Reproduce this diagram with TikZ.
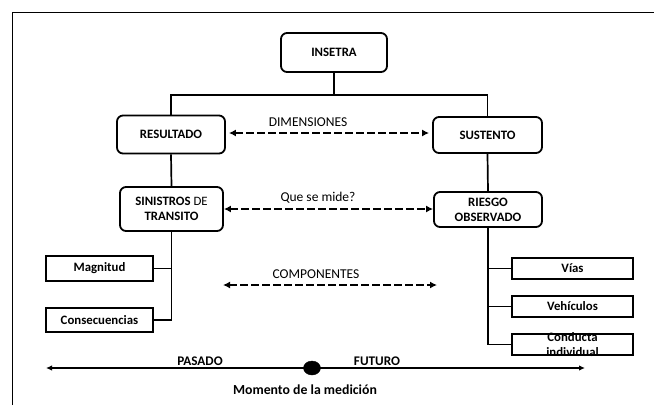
\documentclass[tikz,border=0pt]{standalone}
\usepackage{fontspec}
\setmainfont{Carlito}
\usetikzlibrary{arrows.meta,shapes.geometric}
\begin{document}
\begin{tikzpicture}[x=1pt,y=-1pt,
  font=\fontsize{13.5}{15}\selectfont,
  rbox/.style={draw,line width=1.8pt,rounded corners=6pt,font=\fontsize{12.8}{15}\selectfont\bfseries,align=center,inner sep=0pt},
  sbox/.style={draw,line width=1.6pt,font=\fontsize{12.8}{15}\selectfont\bfseries,align=center,inner sep=0pt},
  conn/.style={line width=1.7pt},
  dasharrow/.style={line width=2.2pt,dash pattern=on 8pt off 3pt,{Latex[length=7pt,width=7pt]}-{Latex[length=7pt,width=7pt]}},
  lbl/.style={inner sep=0pt,font=\fontsize{13.5}{15}\selectfont},
  blbl/.style={inner sep=0pt,font=\fontsize{13.2}{15}\selectfont\bfseries}]
\useasboundingbox (0,0) rectangle (654,405);
\fill[white] (0,0) rectangle (654,405);
% frame
\draw[line width=1pt] (12,405) -- (12,12) -- (654,12);
% boxes
\node[rbox,minimum width=106pt,minimum height=39pt] (insetra) at (334,52.5) {INSETRA};
\node[rbox,minimum width=108pt,minimum height=38pt] (resultado) at (171,134.5) {RESULTADO};
\node[rbox,minimum width=109pt,minimum height=36pt] (sustento) at (487.5,135) {SUSTENTO};
\node[rbox,minimum width=103pt,minimum height=44pt] (sinistros) at (171.5,209) {SINISTROS \textmd{DE}\\TRANSITO};
\node[rbox,minimum width=108pt,minimum height=35pt] (riesgo) at (488,209.5) {RIESGO\\OBSERVADO};
\node[sbox,minimum width=107pt,minimum height=25pt] (magnitud) at (99.5,268.5) {Magnitud};
\node[sbox,minimum width=107pt,minimum height=24pt] (consec) at (99.5,320) {Consecuencias};
\node[sbox,minimum width=121pt,minimum height=21pt] (vias) at (572.5,268.5) {Vías};
\node[sbox,minimum width=121pt,minimum height=21pt] (vehic) at (572.5,306.5) {Vehículos};
\node[sbox,minimum width=121pt,minimum height=21pt] (conducta) at (572.5,344.5) {};
\node[inner sep=0pt,align=center,font=\fontsize{12.8}{15}\selectfont\bfseries] (conductatxt) at (conducta.center) {Conducta\\individual};
% tree connectors
\coordinate (bus) at (334,95);
\draw[conn] (insetra.south) -- (bus);
\draw[conn] (resultado.north) |- (bus) -| (sustento.north);
\draw[conn] (resultado.south) -- (sinistros.north);
\draw[conn] (sustento.south) -- (riesgo.north);
\draw[conn] (sinistros.south) |- (consec.east);
\draw[conn] (magnitud.east) -- (magnitud.east -| sinistros.south);
\draw[conn] (riesgo.south) |- (conducta.west);
\draw[conn] (vias.west) -- (vias.west -| riesgo.south);
\draw[conn] (vehic.west) -- (vehic.west -| riesgo.south);
% dashed arrows
\draw[dasharrow] ([xshift=3pt,yshift=1.5pt]resultado.east) -- ([xshift=-3pt,yshift=1.5pt]resultado.east -| sustento.west);
\draw[dasharrow] (sinistros.east) -- (sinistros.east -| riesgo.west);
\coordinate (c1) at (223,285);
\coordinate (c2) at (437,285);
\draw[dasharrow] (c1) -- (c2);
\node[lbl] (dim) at (308,122) {DIMENSIONES};
\node[lbl] (que) at (318,198) {Que se mide?};
\node[lbl] (comp) at (316,274) {COMPONENTES};
% timeline
\coordinate (tl) at (46,368);
\coordinate (tr) at (585,368);
\draw[line width=1.8pt,{Latex[length=6pt,width=5.5pt]}-{Latex[length=6pt,width=5.5pt]}] (tl) -- (tr);
\node[draw,fill=black,ellipse,minimum width=17pt,minimum height=14pt,inner sep=0pt] (dot) at (312,368) {};
\node[blbl] (pasado) at (200,361) {PASADO};
\node[blbl] (futuro) at (377,361) {FUTURO};
\node[blbl,font=\fontsize{13.8}{15}\selectfont\bfseries] (momento) at (305,390) {Momento de la medición};
\end{tikzpicture}
\end{document}
